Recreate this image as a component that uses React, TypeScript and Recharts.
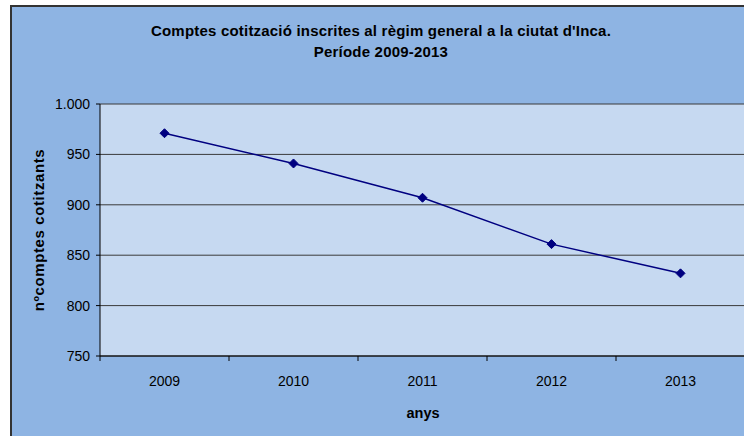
import React from "react";
import { LineChart, Line, XAxis, YAxis, CartesianGrid } from "recharts";

const years = ["2009", "2010", "2011", "2012", "2013"];
const accounts = [971, 941, 907, 861, 832];
const yTicks = [750, 800, 850, 900, 950, 1000];

const data = years.map((year, i) => ({ year, accounts: accounts[i] }));

const FONT = "'Liberation Sans', Arial, sans-serif";
const CHART_W = 760;
const PLOT_LEFT = 100;
const PLOT_RIGHT = 745;
const BAND = (PLOT_RIGHT - PLOT_LEFT) / years.length;

const fmt = (v: number) => String(v).replace(/\B(?=(\d{3})+(?!\d))/g, ".");

function Diamond(props: any) {
  const { cx, cy } = props;
  if (cx == null || cy == null) return null;
  const r = 4.5;
  return (
    <polygon
      points={`${cx},${cy - r} ${cx + r},${cy} ${cx},${cy + r} ${cx - r},${cy}`}
      fill="#000080"
      stroke="#000080"
    />
  );
}

function YearTick(props: any) {
  const { x, y, payload, index } = props;
  const left = x - BAND / 2;
  return (
    <g>
      <line x1={left} y1={y - 8} x2={left} y2={y - 3} stroke="#000" />
      {index === years.length - 1 && (
        <line x1={left + BAND} y1={y - 8} x2={left + BAND} y2={y - 3} stroke="#000" />
      )}
      <text
        x={x}
        y={y + 17}
        dy="0.35em"
        textAnchor="middle"
        fontSize={14}
        fontFamily={FONT}
        fill="#000"
      >
        {payload.value}
      </text>
    </g>
  );
}

export default function App() {
  return (
    <div
      style={{
        position: "absolute",
        left: 0,
        top: 0,
        width: 744,
        height: 436,
        overflow: "hidden",
        background: "#fff",
      }}
    >
      <div
        style={{
          position: "absolute",
          left: 10,
          top: 5,
          width: 780,
          height: 480,
          background: "#8EB4E3",
          border: "2px solid #333",
        }}
      />
      <div
        style={{
          position: "absolute",
          left: 81,
          width: 600,
          top: 20,
          textAlign: "center",
          fontFamily: FONT,
          fontWeight: "bold",
          fontSize: 15,
          letterSpacing: 0.2,
          lineHeight: "21px",
          color: "#000",
        }}
      >
        Comptes cotització inscrites al règim general a la ciutat d'Inca.
        <br />
        Període 2009-2013
      </div>
      <div
        style={{
          position: "absolute",
          left: 38,
          top: 230,
          transform: "translate(-50%, -50%) rotate(-90deg)",
          whiteSpace: "nowrap",
          fontFamily: FONT,
          fontWeight: "bold",
          fontSize: 15,
          letterSpacing: 0.6,
          color: "#000",
        }}
      >
        nºcomptes cotitzants
      </div>
      <div
        style={{
          position: "absolute",
          left: 423,
          top: 413,
          transform: "translate(-50%, -50%)",
          fontFamily: FONT,
          fontWeight: "bold",
          fontSize: 14.5,
          color: "#000",
        }}
      >
        anys
      </div>
      <div style={{ position: "absolute", left: 0, top: 0 }}>
        <LineChart
          width={CHART_W}
          height={436}
          data={data}
          margin={{ top: 104, right: CHART_W - PLOT_RIGHT, bottom: 50, left: 0 }}
        >
          <CartesianGrid
            vertical={false}
            fill="#C6D9F1"
            stroke="#3a3a3a"
            strokeWidth={1}
          />
          <XAxis
            dataKey="year"
            height={30}
            padding={{ left: BAND / 2, right: BAND / 2 }}
            axisLine={{ stroke: "#000" }}
            tickLine={false}
            tick={<YearTick />}
            interval={0}
          />
          <YAxis
            width={PLOT_LEFT}
            domain={[750, 1000]}
            ticks={yTicks}
            allowDataOverflow
            axisLine={{ stroke: "#000" }}
            tickLine={{ stroke: "#000" }}
            tickSize={4}
            tickMargin={6}
            tickFormatter={(v: number) => fmt(v)}
            tick={{ fontSize: 14, fontFamily: FONT, fill: "#000" }}
          />
          <Line
            type="linear"
            dataKey="accounts"
            stroke="#000080"
            strokeWidth={1.5}
            dot={<Diamond />}
            activeDot={false}
            isAnimationActive={false}
          />
        </LineChart>
      </div>
    </div>
  );
}
